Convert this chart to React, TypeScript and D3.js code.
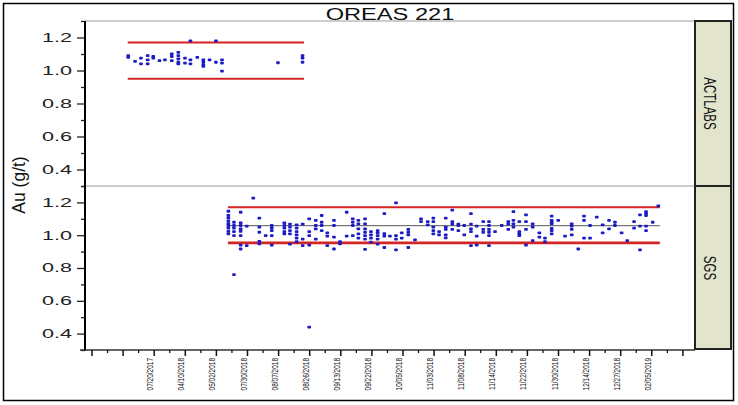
import { useEffect, useRef } from "react";
import * as d3 from "d3";

const chartTitle = "OREAS 221";
const yTitle = "Au (g/t)";

// column positions along the run (one minor tick = 1 unit) and the Au values in each column
const actlabsSeq = [2.33, 2.77, 3.15, 3.58, 3.94, 4.34, 4.69, 5.13, 5.55, 5.98, 6.33, 6.77, 7.16, 7.56, 7.97, 8.36, 11.96, 13.54];
const actlabsAu = [
  [1.09, 1.08], [1.055], [1.075, 1.04], [1.09, 1.065, 1.04], [1.085, 1.075], [1.06], [1.065],
  [1.1, 1.085, 1.06], [1.11, 1.09, 1.07, 1.05, 1.04], [1.075, 1.045], [1.18, 1.065, 1.04], [1.08],
  [1.065, 1.05, 1.035, 1.025], [1.065], [1.18, 1.05], [1.065, 1.045, 0.996], [1.047], [1.09, 1.075, 1.05],
];

const sgsSeq = [
  8.77, 9.13, 9.56, 9.95, 10.37, 10.76, 11.17, 11.56, 12.37, 12.73, 13.16, 13.55, 13.97, 14.39, 14.77,
  15.13, 15.56, 15.95, 16.38, 16.77, 17.13, 17.56, 17.94, 18.37, 18.8, 19.16, 19.55, 19.92, 20.34, 20.77,
  21.16, 21.59, 21.95, 22.32, 22.75, 23.17, 23.56, 23.94, 24.37, 24.74, 25.16, 25.53, 25.92, 26.35, 26.77,
  27.1, 27.48, 27.91, 28.34, 28.77, 29.13, 29.56, 29.98, 30.42, 30.85, 31.27, 31.64, 32.03, 32.46, 32.84,
  33.25, 33.63, 34.06, 34.42, 34.86, 35.24, 35.63, 36.06, 36.42,
];
const sgsAu = [
  [1.146, 1.12, 1.104, 1.085, 1.069, 1.059, 1.043, 1.023, 1.008],
  [1.079, 1.059, 1.043, 1.022, 0.998, 0.76],
  [1.14, 1.075, 1.059, 1.039, 1.023, 0.998, 0.94, 0.916],
  [1.055, 0.937],
  [1.226],
  [1.104, 1.049, 1.018, 0.962, 0.947],
  [0.998],
  [1.059, 1.043, 1.028, 0.998, 0.94],
  [1.075, 1.059, 1.043, 1.022, 1.008],
  [1.067, 1.049, 1.028, 1.008, 0.945],
  [1.063, 1.043, 1.022, 1.002, 0.982, 0.96],
  [1.067, 0.976, 0.937],
  [1.1, 1.022, 0.998, 0.94, 0.44],
  [1.09, 1.059, 1.039, 0.976],
  [1.12, 1.079, 1.059, 1.028],
  [1.014, 0.994, 0.937],
  [1.09, 1.059, 0.988, 0.916],
  [0.96, 0.947],
  [1.14, 0.994],
  [1.1, 1.079, 1.059, 0.998],
  [1.09, 1.069, 1.039, 1.008, 0.982],
  [1.1, 1.069, 1.039, 1.018, 0.998, 0.976, 0.913],
  [1.022, 1.002, 0.982, 0.957],
  [1.028, 1.014, 0.998, 0.976, 0.945],
  [1.132, 1.01, 0.994, 0.925],
  [0.994],
  [1.197, 0.998, 0.976, 0.91],
  [1.014, 0.982],
  [1.035, 1.018, 1.002, 0.925],
  [0.972],
  [1.1, 1.083],
  [1.083, 1.063],
  [1.104, 1.083, 1.049, 1.028, 1.008],
  [1.022, 1.002],
  [1.104, 1.049, 1.035, 1.002, 0.984],
  [1.153, 1.083, 1.067, 1.035],
  [1.067, 1.059, 1.028],
  [1.059, 1.002],
  [1.132, 1.067, 1.039, 1.022, 0.937],
  [1.055, 0.994, 0.94],
  [1.083, 1.035, 1.018],
  [1.083, 1.059, 1.035, 1.018, 0.998, 0.937],
  [1.022],
  [1.059],
  [1.083, 1.067, 1.035],
  [1.144, 1.09, 1.069, 1.049],
  [1.083, 1.022, 1.008, 0.998],
  [1.124, 1.083, 1.035, 0.94],
  [1.069, 1.049, 0.967],
  [1.014, 0.988],
  [0.982, 0.96],
  [1.116, 1.09, 1.079, 1.069, 1.041, 1.028, 1.008],
  [1.09],
  [0.994],
  [1.069, 1.055, 1.035, 1.002],
  [0.916],
  [1.116, 1.09, 0.982],
  [1.059, 0.982],
  [1.11],
  [1.063, 1.014],
  [1.09, 1.039],
  [1.079, 1.059],
  [1.014],
  [0.967],
  [1.083, 1.043],
  [1.124, 1.055, 0.91],
  [1.144, 1.132, 1.12, 1.055, 1.028],
  [1.079],
  [1.179],
];

// control limits (lower, upper) and the mean line
const actlabsLimits = [0.95, 1.17];
const sgsLimits = [0.953, 1.17];
const sgsMean = 1.058;

// labels on the major x ticks (every 2nd unit), blanks where the axis has none
const dateLabels = [
  "", "", "07/20/2017", "04/10/2018", "05/02/2018", "07/30/2018", "08/07/2018", "08/26/2018",
  "09/13/2018", "09/22/2018", "10/05/2018", "11/03/2018", "11/08/2018", "11/14/2018", "11/22/2018",
  "11/30/2018", "12/14/2018", "12/27/2018", "02/05/2019", "",
];

const yMajor = [0.4, 0.6, 0.8, 1.0, 1.2];
const yMinor = [0.3, 0.5, 0.7, 0.9, 1.1, 1.3];

export default function App() {
  const svgRef = useRef<SVGSVGElement | null>(null);

  useEffect(() => {
    const svg = d3.select(svgRef.current);
    svg.selectAll("*").remove();

    const width = 738;
    const height = 405;
    const left = 85, right = 695, top = 21, mid = 186, bottom = 350;
    const font = "'Liberation Sans', Arial, sans-serif";

    svg.append("rect").attr("width", width).attr("height", height).attr("fill", "#fff");

    const x = d3.scaleLinear().domain([0, 38]).range([92, 92 + 38 * 15.55]);

    const panels = [
      { name: "ACTLABS", seq: actlabsSeq, au: actlabsAu, limits: actlabsLimits, mean: null as number | null, y0: top, y1: mid },
      { name: "SGS", seq: sgsSeq, au: sgsAu, limits: sgsLimits, mean: sgsMean as number | null, y0: mid, y1: bottom },
    ];

    // plot frame lines
    svg.append("line").attr("x1", left).attr("x2", right).attr("y1", top).attr("y2", top)
      .attr("stroke", "#9a9a9a").attr("stroke-width", 1);
    svg.append("line").attr("x1", left).attr("x2", right).attr("y1", mid).attr("y2", mid)
      .attr("stroke", "#9a9a9a").attr("stroke-width", 1);

    panels.forEach((p) => {
      const y = d3.scaleLinear().domain([0.3, 1.3]).range([p.y1, p.y0]);
      const g = svg.append("g");

      const majorAxis = d3.axisLeft(y).tickValues(yMajor).tickSize(8).tickFormat(() => "");
      const minorAxis = d3.axisLeft(y).tickValues(yMinor).tickSize(4).tickFormat(() => "");
      [majorAxis, minorAxis].forEach((ax) => {
        const a = g.append("g").attr("transform", `translate(${left},0)`).call(ax);
        a.select(".domain").remove();
        a.selectAll("line").attr("stroke", "#222").attr("stroke-width", 1.3);
      });

      yMajor.forEach((v) => {
        g.append("text")
          .attr("transform", `translate(72,${y(v)}) scale(1.8,1)`)
          .attr("text-anchor", "end")
          .attr("dy", "0.36em")
          .attr("font-family", font)
          .attr("font-size", 12)
          .attr("fill", "#222")
          .text(d3.format(".1f")(v));
      });

      const [sMin, sMax] = d3.extent(p.seq) as [number, number];
      const x1 = x(sMin) - 0.5;
      const x2 = x(sMax) + 1.5;

      if (p.mean !== null) {
        g.append("line").attr("x1", x1).attr("x2", x2).attr("y1", y(p.mean)).attr("y2", y(p.mean))
          .attr("stroke", "#555").attr("stroke-width", 1);
      }
      p.limits.forEach((v, i) => {
        g.append("line").attr("x1", x1).attr("x2", x2).attr("y1", y(v)).attr("y2", y(v))
          .attr("stroke", "#d42424").attr("stroke-width", p.name === "SGS" && i === 0 ? 2.7 : 2.1);
      });

      const pts = p.seq.flatMap((s, i) => p.au[i].map((v) => ({ s, v })));
      g.selectAll("rect.pt")
        .data(pts)
        .enter()
        .append("rect")
        .attr("class", "pt")
        .attr("x", (d) => x(d.s) - 1.8)
        .attr("y", (d) => y(d.v) - 1.4)
        .attr("width", 3.6)
        .attr("height", 2.8)
        .attr("rx", 0.8)
        .attr("fill", "#1c1cc4");
    });

    // y axis line
    svg.append("line").attr("x1", left).attr("x2", left).attr("y1", top).attr("y2", bottom + 1)
      .attr("stroke", "#000").attr("stroke-width", 2);

    // x axis
    const majors = d3.range(0, 39, 2);
    const minors = d3.range(1, 38, 2);
    const xa = svg.append("g").attr("transform", `translate(0,${bottom})`);
    xa.append("line").attr("x1", 80).attr("x2", right).attr("stroke", "#333").attr("stroke-width", 1.5);
    xa.selectAll("line.maj").data(majors).enter().append("line").attr("class", "maj")
      .attr("x1", (d) => x(d)).attr("x2", (d) => x(d)).attr("y1", 0).attr("y2", 6)
      .attr("stroke", "#111").attr("stroke-width", 1.5);
    xa.selectAll("line.min").data(minors).enter().append("line").attr("class", "min")
      .attr("x1", (d) => x(d)).attr("x2", (d) => x(d)).attr("y1", 0).attr("y2", 3)
      .attr("stroke", "#111").attr("stroke-width", 1.3);
    majors.forEach((m, i) => {
      if (!dateLabels[i]) return;
      xa.append("text")
        .attr("transform", `translate(${x(m) - 1},8) rotate(-90) scale(1,1.3)`)
        .attr("text-anchor", "end")
        .attr("font-family", font)
        .attr("font-size", 6.5)
        .attr("fill", "#111")
        .text(dateLabels[i]);
    });

    // strips
    panels.forEach((p) => {
      svg.append("rect")
        .attr("x", right).attr("y", p.y0).attr("width", 36).attr("height", p.y1 - p.y0 - (p.name === "SGS" ? 1 : 0))
        .attr("fill", "#e2e5cc").attr("stroke", "#222").attr("stroke-width", 2);
      svg.append("text")
        .attr("transform", `translate(710,${(p.y0 + p.y1) / 2}) rotate(90) scale(1,1.4)`)
        .attr("text-anchor", "middle")
        .attr("dy", "0.36em")
        .attr("font-family", font)
        .attr("font-size", 11.5)
        .attr("fill", "#111")
        .text(p.name);
    });

    // titles
    svg.append("text")
      .attr("transform", `translate(390,20) scale(1.45,1)`)
      .attr("text-anchor", "middle")
      .attr("font-family", font)
      .attr("font-size", 16.3)
      .attr("fill", "#111")
      .text(chartTitle);
    svg.append("text")
      .attr("transform", `translate(25,185) rotate(-90)`)
      .attr("text-anchor", "middle")
      .attr("font-family", font)
      .attr("font-size", 17.5)
      .attr("fill", "#111")
      .text(yTitle);

    // outer frame
    svg.append("rect").attr("x", 3.5).attr("y", 3.5).attr("width", 730).attr("height", 397)
      .attr("fill", "none").attr("stroke", "#000").attr("stroke-width", 1.5);
  }, []);

  return (
    <svg
      ref={svgRef}
      width={738}
      height={405}
      style={{ position: "absolute", left: 0, top: 0 }}
    />
  );
}
